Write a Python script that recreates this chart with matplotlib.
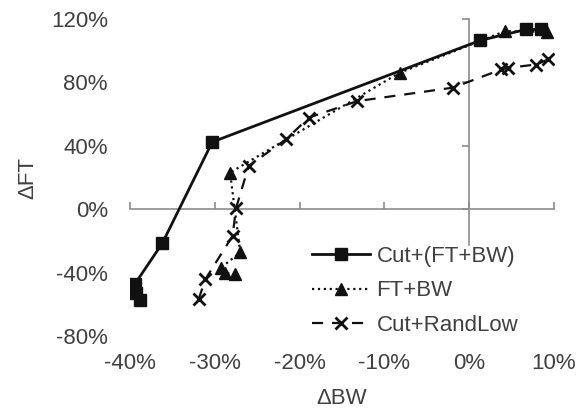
import matplotlib
matplotlib.use("Agg")
import matplotlib.pyplot as plt
from matplotlib.ticker import FuncFormatter

plt.rcParams['font.family'] = ['Liberation Sans', 'DejaVu Sans']

# Cut+(FT+BW)
cut_ftbw_bw = [-38.8, -39.3, -39.4, -36.2, -30.3, 1.3, 6.7, 8.5]
cut_ftbw_ft = [-57.0, -53.0, -47.0, -21.6, 42.4, 106.5, 113.4, 113.4]

# FT+BW
ftbw_bw = [-27.6, -28.8, -29.3, -27.0, -28.2, -8.2, 4.2, 9.2]
ftbw_ft = [-41.0, -40.0, -37.0, -27.3, 23.1, 86.1, 112.3, 112.0]

# Cut+RandLow
rand_bw = [-31.9, -31.1, -27.9, -27.5, -26.0, -21.6, -18.9, -13.2, -1.9, 3.8, 4.6, 7.9, 9.3]
rand_ft = [-56.7, -44.1, -16.8, 0.6, 27.3, 44.1, 57.8, 68.2, 76.7, 88.2, 89.2, 91.3, 94.5]

x_ticks = [-40, -30, -20, -10, 0, 10]
y_ticks = [-80, -40, 0, 40, 80, 120]

txt_color = '#404040'
ax_color = '#8c8c8c'
fs = 16
pct = FuncFormatter(lambda v, p: f'{v:.0f}%')

fig = plt.figure(figsize=(5.76, 4.09), dpi=100)
rect = [0.2257, 0.1785, 0.7361, 0.775]

# axes that only carries the tick labels (left / bottom)
ax_lab = fig.add_axes(rect, frameon=False)
ax_lab.set_xlim(-40, 10)
ax_lab.set_ylim(-80, 120)
ax_lab.set_xticks(x_ticks)
ax_lab.set_yticks(y_ticks)
ax_lab.xaxis.set_major_formatter(pct)
ax_lab.yaxis.set_major_formatter(pct)
ax_lab.tick_params(length=0, labelsize=fs, labelcolor=txt_color)
ax_lab.tick_params(axis='x', pad=12)
ax_lab.tick_params(axis='y', pad=16)
ax_lab.set_xlabel('ΔBW', fontsize=fs, color=txt_color, labelpad=10)
ax_lab.set_ylabel('ΔFT', fontsize=fs, color=txt_color, labelpad=9)

# main axes with crossing axis lines
ax = fig.add_axes(rect)
ax.patch.set_visible(False)
ax.set_xlim(-40, 10)
ax.set_ylim(-80, 120)
ax.set_xticks(x_ticks)
ax.set_yticks(y_ticks)
ax.spines['top'].set_visible(False)
ax.spines['right'].set_visible(False)
ax.spines['left'].set_position(('data', 0))
ax.spines['bottom'].set_position(('data', 0))
for s in ('left', 'bottom'):
    ax.spines[s].set_color(ax_color)
    ax.spines[s].set_linewidth(1.2)
ax.tick_params(axis='x', direction='in', length=5, color=ax_color, width=1.2, labelbottom=False)
ax.tick_params(axis='y', direction='out', length=5, color=ax_color, width=1.2, labelleft=False)

ax.plot(cut_ftbw_bw, cut_ftbw_ft, '-', color='#111111', lw=2.0,
        marker='s', ms=9, label='Cut+(FT+BW)', zorder=3)
ax.plot(ftbw_bw, ftbw_ft, ':', color='#111111', lw=1.6,
        marker='^', ms=8, label='FT+BW', zorder=3)
ax.plot(rand_bw, rand_ft, color='#111111', lw=1.6, dashes=(5, 4),
        marker='x', ms=8, mew=2.0, label='Cut+RandLow', zorder=3)

leg = ax.legend(loc='upper left', bbox_to_anchor=(312 / 576, 1 - 246 / 409),
                bbox_transform=fig.transFigure, frameon=True,
                fontsize=fs, handlelength=2.6, handletextpad=0.3,
                labelspacing=0.6, borderpad=0.0, borderaxespad=0.0)
leg.get_frame().set_edgecolor('white')
leg.get_frame().set_facecolor('white')
leg.get_frame().set_alpha(1)
for t in leg.get_texts():
    t.set_color(txt_color)

fig.savefig('out.png', dpi=100)
